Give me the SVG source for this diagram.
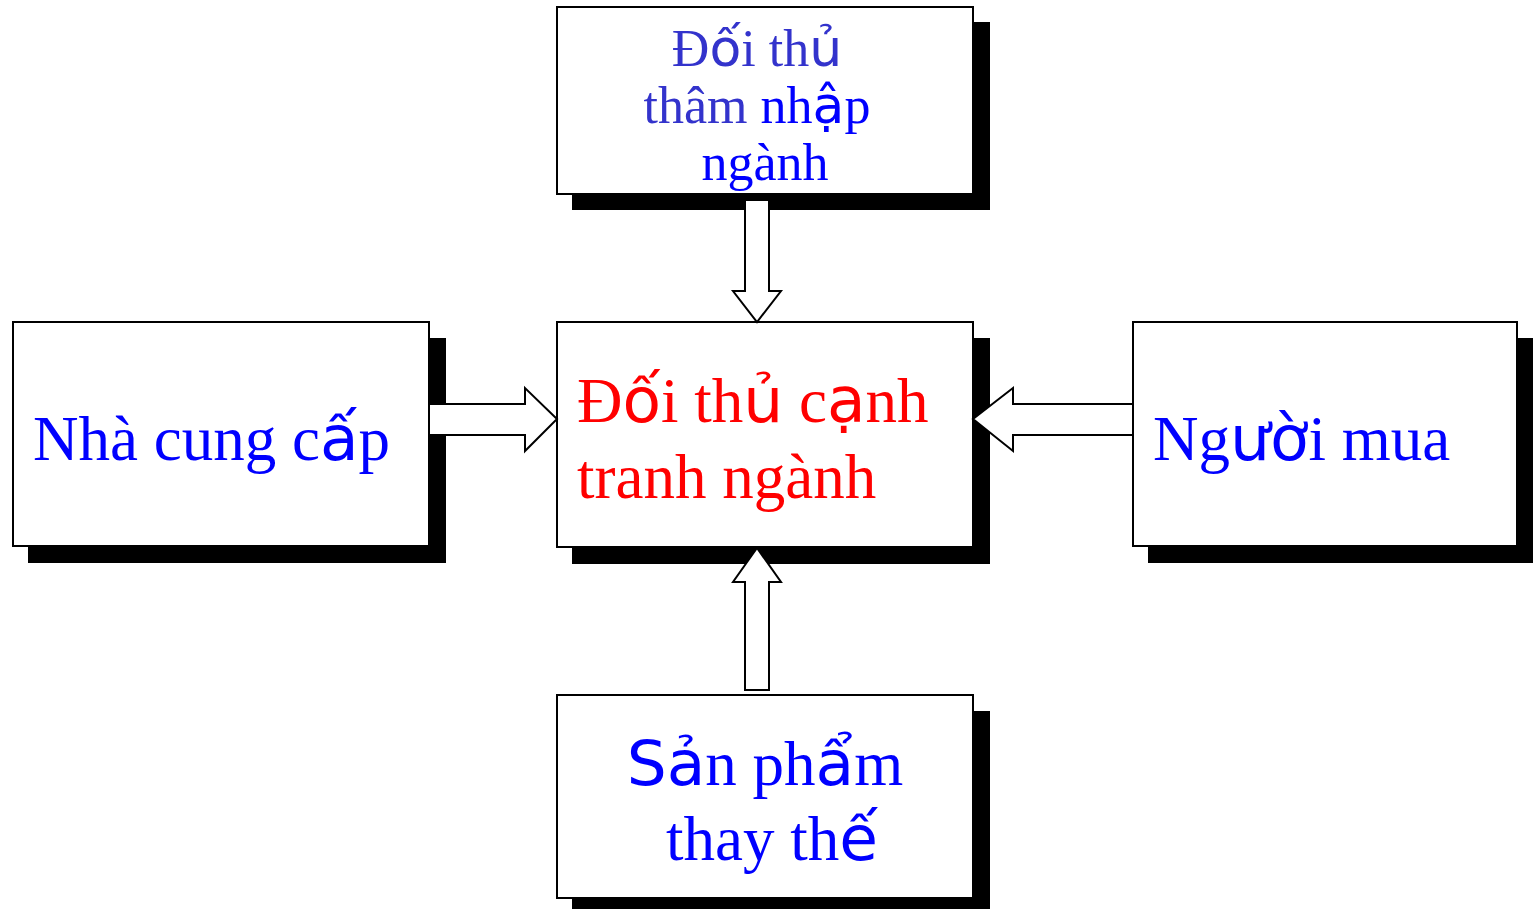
<svg xmlns="http://www.w3.org/2000/svg" width="1533" height="909" viewBox="0 0 1533 909">
<style>
.shadow{fill:#000}
.box{fill:#fff;stroke:#000;stroke-width:2}
.arrow{fill:#fff;stroke:#000;stroke-width:2;stroke-linejoin:miter}
text{font-family:"Liberation Serif","Times New Roman",serif}
.s{font-family:"DejaVu Sans","Liberation Sans",sans-serif}
.t1{font-size:52px}
.t2{font-size:63px}
.blue{fill:#0000FF}
.pur{fill:#3333CC}
.red{fill:#FF0000}
</style>
<rect width="1533" height="909" fill="#fff"/>
<g id="node-top">
<rect class="shadow" x="572" y="22" width="418" height="188"/>
<rect class="box" x="557" y="7" width="416" height="187"/>
<text class="t1 pur" x="757" y="66" text-anchor="middle">Đ<tspan class="s">ố</tspan>i th<tspan class="s">ủ</tspan></text>
<text class="t1" x="757" y="123" text-anchor="middle"><tspan class="pur">thâm </tspan><tspan class="blue">nh<tspan class="s">ậ</tspan>p</tspan></text>
<text class="t1 blue" x="765" y="180" text-anchor="middle">ngành</text>
</g>
<g id="node-center">
<rect class="shadow" x="572" y="338" width="418" height="226"/>
<rect class="box" x="557" y="322" width="416" height="225"/>
<text class="t2 red" x="577" y="422">Đ<tspan class="s">ố</tspan>i th<tspan class="s">ủ</tspan> c<tspan class="s">ạ</tspan>nh</text>
<text class="t2 red" x="577" y="498">tranh ngành</text>
</g>
<g id="node-left">
<rect class="shadow" x="28" y="338" width="418" height="225"/>
<rect class="box" x="13" y="322" width="416" height="224"/>
<text class="t2 blue" x="33" y="460">Nhà cung c<tspan class="s">ấ</tspan>p</text>
</g>
<g id="node-right">
<rect class="shadow" x="1148" y="338" width="385" height="225"/>
<rect class="box" x="1133" y="322" width="384" height="224"/>
<text class="t2 blue" x="1153" y="460">Ng<tspan class="s">ườ</tspan>i mua</text>
</g>
<g id="node-bottom">
<rect class="shadow" x="572" y="711" width="418" height="198"/>
<rect class="box" x="557" y="695" width="416" height="203"/>
<text class="t2 blue" x="765" y="785" text-anchor="middle"><tspan class="s">Sả</tspan>n ph<tspan class="s">ẩ</tspan>m</text>
<text class="t2 blue" x="772" y="860" text-anchor="middle">thay th<tspan class="s">ế</tspan></text>
</g>
<g id="connectors">
<polygon class="arrow" points="429,404 525,404 525,388 557,419 525,451 525,435 429,435"/>
<polygon class="arrow" points="1133,404 1013,404 1013,388 973,419 1013,451 1013,435 1133,435"/>
<polygon class="arrow" points="745,200 769,200 769,291 781,291 757,322 733,291 745,291"/>
<polygon class="arrow" points="745,690 769,690 769,582 781,582 757,548 733,582 745,582"/>
</g>
</svg>
